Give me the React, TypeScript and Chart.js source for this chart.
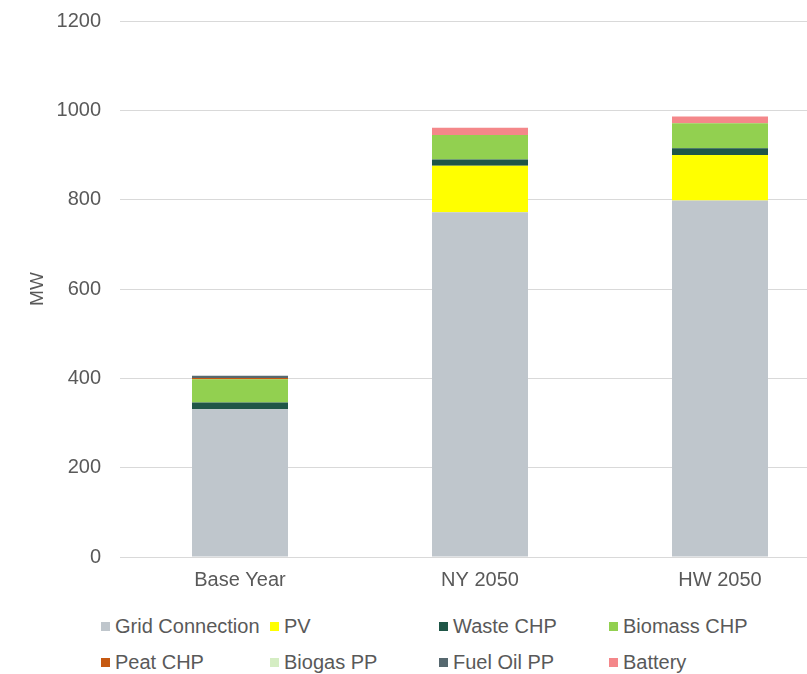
import React, { useEffect, useRef } from "react";
import { Chart, registerables } from "chart.js";

Chart.register(...registerables);

const categories = ["Base Year", "NY 2050", "HW 2050"];
const seriesNames = [
  "Grid Connection",
  "PV",
  "Waste CHP",
  "Biomass CHP",
  "Peat CHP",
  "Biogas PP",
  "Fuel Oil PP",
  "Battery",
];
const gridConnection = [331, 772, 798];
const pv = [0, 104, 102];
const wasteChp = [15, 14, 15];
const biomassChp = [52, 55, 56];
const peatChp = [2.5, 0, 0];
const biogasPp = [0, 0, 0];
const fuelOilPp = [5.5, 0, 0];
const battery = [0, 16, 15];
const seriesColors = [
  "#BFC6CC",
  "#FFFF00",
  "#1F5647",
  "#92D050",
  "#C65911",
  "#D5EDC3",
  "#56686F",
  "#F4878A",
];
const yMin = 0;
const yMax = 1200;
const yStep = 200;
const yTitle = "MW";

const FONT = "'Liberation Sans', Arial, sans-serif";
const TEXT = "#595959";
const LEGEND_COL_X = [101, 270, 439, 609];
const LEGEND_ROW_Y = [626, 662];

export default function App() {
  const ref = useRef<HTMLCanvasElement | null>(null);

  useEffect(() => {
    const values = [gridConnection, pv, wasteChp, biomassChp, peatChp, biogasPp, fuelOilPp, battery];
    const chart = new Chart(ref.current as HTMLCanvasElement, {
      type: "bar",
      data: {
        labels: categories,
        datasets: seriesNames.map((name, i) => ({
          label: name,
          data: values[i],
          backgroundColor: seriesColors[i],
          borderWidth: 0,
          barPercentage: 0.4,
          categoryPercentage: 1,
        })),
      },
      options: {
        animation: false,
        responsive: false,
        devicePixelRatio: 1,
        layout: { padding: { top: 11, right: 0, bottom: 0, left: 0 } },
        plugins: {
          legend: { display: false },
          tooltip: { enabled: false },
        },
        scales: {
          x: {
            stacked: true,
            grid: { display: false, drawTicks: false },
            border: { display: false },
            ticks: {
              color: TEXT,
              padding: 11,
              font: { family: FONT, size: 20 },
            },
            afterFit: (s: any) => {
              s.height = 43;
            },
          },
          y: {
            stacked: true,
            min: yMin,
            max: yMax,
            grid: { color: "#D9D9D9", lineWidth: 1, drawTicks: false },
            border: { display: false },
            ticks: {
              stepSize: yStep,
              color: TEXT,
              padding: 19,
              font: { family: FONT, size: 20 },
              callback: (v: any) => String(v),
            },
            title: {
              display: true,
              text: yTitle,
              color: TEXT,
              font: { family: FONT, size: 19 },
              padding: { top: 26, bottom: 0 },
            },
            afterFit: (s: any) => {
              s.width = 120;
            },
          },
        },
      },
    });
    return () => chart.destroy();
  }, []);

  return (
    <div
      style={{
        position: "absolute",
        left: 0,
        top: 0,
        width: 807,
        height: 674,
        overflow: "hidden",
        background: "#fff",
      }}
    >
      <canvas
        ref={ref}
        width={840}
        height={610}
        style={{ display: "block", position: "absolute", left: 0, top: -10 }}
      />
      {seriesNames.map((name, i) => (
        <div
          key={name}
          style={{
            position: "absolute",
            left: LEGEND_COL_X[i % 4],
            top: LEGEND_ROW_Y[Math.floor(i / 4)] - 12,
            height: 24,
            display: "flex",
            alignItems: "center",
            whiteSpace: "nowrap",
            fontFamily: FONT,
            fontSize: 20,
            color: TEXT,
          }}
        >
          <span
            style={{
              display: "inline-block",
              width: 9,
              height: 9,
              background: seriesColors[i],
              marginRight: 5,
            }}
          />
          <span>{name}</span>
        </div>
      ))}
    </div>
  );
}
